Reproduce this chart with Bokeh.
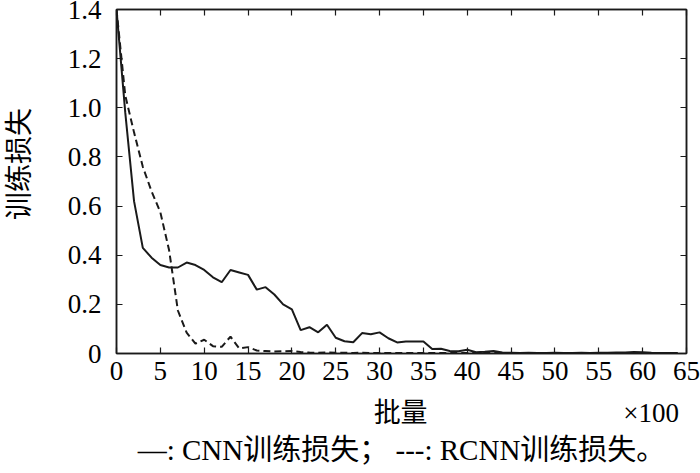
from bokeh.plotting import figure
from bokeh.models import LinearAxis, FixedTicker, Range1d, Title
from bokeh.embed import file_html
from bokeh.resources import INLINE

# ---- data (x in units of 100 batches) ----
batches = list(range(0, 65))
cnn_loss = [1.40, 0.98, 0.62, 0.43, 0.39, 0.36, 0.35, 0.35, 0.37, 0.36,
            0.34, 0.31, 0.29, 0.34, 0.33, 0.32, 0.26, 0.27, 0.24, 0.20,
            0.18, 0.095, 0.107, 0.086, 0.117, 0.064, 0.050, 0.046, 0.083, 0.078,
            0.086, 0.062, 0.045, 0.049, 0.049, 0.049, 0.018, 0.019, 0.010, 0.009,
            0.015, 0.005, 0.007, 0.010, 0.004, 0.003, 0.002, 0.003, 0.002, 0.002,
            0.003, 0.002, 0.002, 0.003, 0.002, 0.003, 0.003, 0.004, 0.004, 0.006,
            0.005, 0.003, 0.002, 0.002, 0.002]
rcnn_loss = [1.40, 1.05, 0.90, 0.76, 0.66, 0.575, 0.42, 0.175, 0.085, 0.040,
             0.056, 0.030, 0.027, 0.069, 0.020, 0.026, 0.012, 0.010, 0.008, 0.009,
             0.010, 0.006, 0.004, 0.003, 0.004, 0.003, 0.003, 0.002, 0.003, 0.002,
             0.002, 0.002, 0.002, 0.002, 0.002, 0.002, 0.002, 0.002, 0.002, 0.002,
             0.002, 0.002, 0.002, 0.002, 0.002, 0.002, 0.002, 0.002, 0.002, 0.002,
             0.002, 0.002, 0.002, 0.002, 0.002, 0.002, 0.002, 0.002, 0.002, 0.002,
             0.002, 0.002, 0.002, 0.002, 0.002]
x_ticks = [0, 5, 10, 15, 20, 25, 30, 35, 40, 45, 50, 55, 60, 65]
y_ticks = [0, 0.2, 0.4, 0.6, 0.8, 1.0, 1.2, 1.4]
y_tick_labels = ["0", "0.2", "0.4", "0.6", "0.8", "1.0", "1.2", "1.4"]
x_title = "批量"
y_title = "训练损失"
x_unit = "×100"
caption = "—: CNN训练损失； ---: RCNN训练损失。"

SERIF = "'Liberation Serif', 'Noto Sans CJK SC'"
INK = "#1a1a1a"
NB = "\u00a0"

p = figure(width=700, height=473, output_backend="svg", toolbar_location=None,
           x_range=Range1d(0, 65), y_range=Range1d(0, 1.4),
           x_axis_type=None, y_axis_type=None,
           min_border_left=115, min_border_right=14, min_border_top=9,
           min_border_bottom=120)
p.grid.visible = False
p.outline_line_color = INK
p.outline_line_width = 1.5
p.background_fill_color = "white"
p.border_fill_color = "white"


def make_axis(ticks, labels=None, show_labels=True):
    ax = LinearAxis(ticker=FixedTicker(ticks=ticks))
    ax.major_tick_in = 6
    ax.major_tick_out = 0
    ax.minor_tick_line_color = None
    ax.major_tick_line_color = INK
    ax.major_tick_line_width = 1.2
    ax.axis_line_color = INK
    ax.axis_line_width = 1.5
    ax.major_label_text_font = SERIF
    ax.major_label_text_color = "black"
    if labels is not None:
        ax.major_label_overrides = {t: l for t, l in zip(ticks, labels)}
    if show_labels:
        ax.major_label_text_font_size = "27px"
    else:
        ax.major_label_text_font_size = "0px"
        ax.major_label_standoff = 0
    return ax


bottom = make_axis(x_ticks)
bottom.major_label_standoff = 8
# axis title "批量" centred on the frame, unit "×100" to its right on the same line
bottom.axis_label = NB * 37 + x_title + NB * 29 + x_unit
bottom.axis_label_text_font = SERIF
bottom.axis_label_text_font_size = "27px"
bottom.axis_label_text_font_style = "normal"
bottom.axis_label_text_color = "black"
bottom.axis_label_standoff = 15

left = make_axis(y_ticks, y_tick_labels)
left.major_label_standoff = 15
left.axis_label = NB * 5 + y_title
left.axis_label_text_font = SERIF
left.axis_label_text_font_size = "28px"
left.axis_label_text_font_style = "normal"
left.axis_label_text_color = "black"
left.axis_label_standoff = 30

top = make_axis(x_ticks, show_labels=False)
right = make_axis(y_ticks, show_labels=False)
p.add_layout(bottom, "below")
p.add_layout(left, "left")
p.add_layout(top, "above")
p.add_layout(right, "right")

cap = Title(text=caption, align="center", text_font=SERIF, text_font_size="29px",
            text_font_style="normal", text_color="black", standoff=2)
p.add_layout(cap, "below")

p.line(batches, cnn_loss, line_color=INK, line_width=2)
p.line(batches, rcnn_loss, line_color=INK, line_width=2, line_dash="7 4")

open("out.html", "w").write(file_html(p, INLINE))
